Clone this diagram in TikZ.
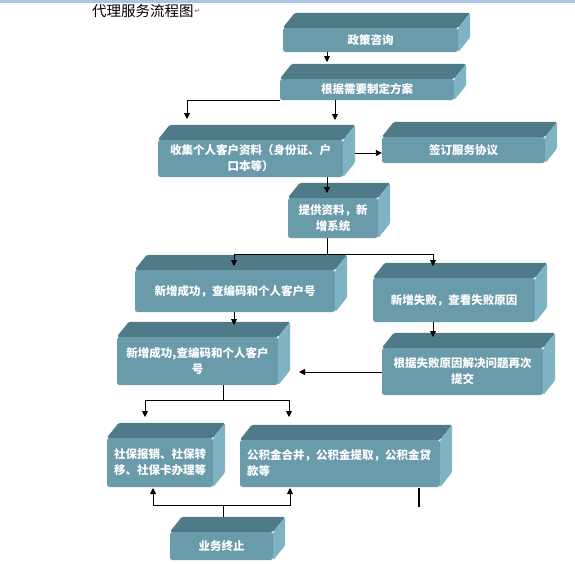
\documentclass[tikz,border=0pt]{standalone}
\usepackage{fontspec}
\setmainfont{Noto Sans CJK SC}
\newfontfamily\markfont{DejaVu Sans}
\usetikzlibrary{arrows.meta, calc}
\definecolor{facec}{HTML}{6A9BAA}
\definecolor{topc}{HTML}{4F7B88}
\definecolor{sidec}{HTML}{7EB3C3}
\definecolor{barc}{HTML}{A9C4E8}

\begin{document}
\begin{tikzpicture}[x=1pt, y=-1pt,
    box/.style={fill=facec, text=white, rounded corners=2.5pt, inner sep=2pt,
        align=center, font=\bfseries\fontsize{11.5}{16}\selectfont},
    ttl/.style={font=\fontsize{14.5}{16}\selectfont, anchor=west, inner sep=0pt},
    conn/.style={line width=0.9pt, -{Triangle[length=6pt, width=6pt]}},
    wire/.style={line width=0.9pt},
]
\useasboundingbox (0,0) rectangle (575,563);
\fill[barc] (0,0) rectangle (575,2.5);

% top and side faces of a box
\def\faces#1{
    \fill[topc, rounded corners=1.5pt] (#1.north west) -- ++(12,-15)
        -- ($(#1.north east)+(12,-15)$) -- (#1.north east) -- cycle;
    \fill[sidec, rounded corners=1.5pt] (#1.north east) -- ++(12,-15)
        -- ($(#1.south east)+(12,-15)$) -- (#1.south east) -- cycle;
}

\node[ttl] (title) at (92,11) {代理服务流程图};
\node[anchor=west, inner sep=0.5pt, text=black!65, font=\markfont\fontsize{7}{8}\selectfont]
    (pmark) at (title.east) {↵};

\node[box, minimum width=175pt, minimum height=24pt] (zc) at (370.5,40) {政策咨询};
\node[box, minimum width=174pt, minimum height=21pt] (fa) at (367,89.5) {根据需要制定方案};
\node[box, minimum width=185pt, minimum height=37pt] (zl) at (250.5,158.5)
    {收集个人客户资料（身份证、户\\口本等）};
\node[box, minimum width=163pt, minimum height=26pt] (xy) at (463.5,150) {签订服务协议};
\node[box, minimum width=90pt, minimum height=40pt] (xz) at (333,218) {提供资料，新\\增系统};
\node[box, minimum width=200pt, minimum height=42pt] (cg) at (235,291)
    {新增成功，查编码和个人客户号};
\node[box, minimum width=162pt, minimum height=44pt] (sb) at (454,300)
    {新增失败，查看失败原因};
\node[box, minimum width=161pt, minimum height=48pt] (kh) at (197.5,361)
    {新增成功,查编码和个人客户\\号};
\node[box, minimum width=161pt, minimum height=47pt] (tj) at (462.5,371.5)
    {根据失败原因解决问题再次\\提交};
\node[box, minimum width=106pt, minimum height=49pt] (sbx) at (160,462.5)
    {社保报销、社保转\\移、社保卡办理等};
\node[box, minimum width=200pt, minimum height=47pt, align=left, text width=186pt]
    (gjj) at (340,463.5) {公积金合并，公积金提取，公积金贷\\款等};
\node[box, minimum width=103pt, minimum height=28pt] (zz) at (221.5,546) {业务终止};

\foreach \b in {zc, fa, zl, xy, xz, cg, sb, kh, tj, sbx, gjj, zz}{
    \faces{\b}
}

% connectors
\coordinate (t1) at (327,62);
\draw[conn] (zc.south -| t1) -- (t1);
\coordinate (t2) at (187,119);
\draw[conn] (fa.south west) -| (t2);
\coordinate (t3) at (335,120);
\draw[conn] (fa.south -| t3) -- (t3);
\coordinate (s4) at (355,153);
\draw[conn] (s4) -- (s4 -| xy.west);
\coordinate (t5) at (327,193);
\draw[conn] (zl.south -| t5) -- (t5);

\coordinate (j6) at (327,254);
\coordinate (t6a) at (234,266);
\coordinate (t6b) at (433,266);
\draw[wire] (xz.south -| j6) -- (j6);
\draw[conn] (j6) -| (t6a);
\draw[conn] (j6) -| (t6b);

\coordinate (t7) at (234,325);
\draw[conn] (cg.south -| t7) -- (t7);
\coordinate (t8) at (433,337);
\draw[conn] (sb.south -| t8) -- (t8);
\coordinate (t9) at (299,372);
\draw[conn] (tj.west |- t9) -- (t9);

\coordinate (j10) at (223,400);
\coordinate (t10a) at (145,417);
\coordinate (t10b) at (289,417);
\draw[wire] (kh.south -| j10) -- (j10);
\draw[conn] (j10) -| (t10a);
\draw[conn] (j10) -| (t10b);

\coordinate (zzt) at ($(zz.north)+(0,-15)$);
\coordinate (j11) at (223,505);
\coordinate (t11a) at (153,488);
\coordinate (t11b) at (290,488);
\draw[wire] (zzt -| j11) -- (j11);
\draw[conn] (j11) -| (t11a);
\draw[conn] (j11) -| (t11b);

\draw[line width=2pt] (419,488) -- (419,507);
\end{tikzpicture}
\end{document}
